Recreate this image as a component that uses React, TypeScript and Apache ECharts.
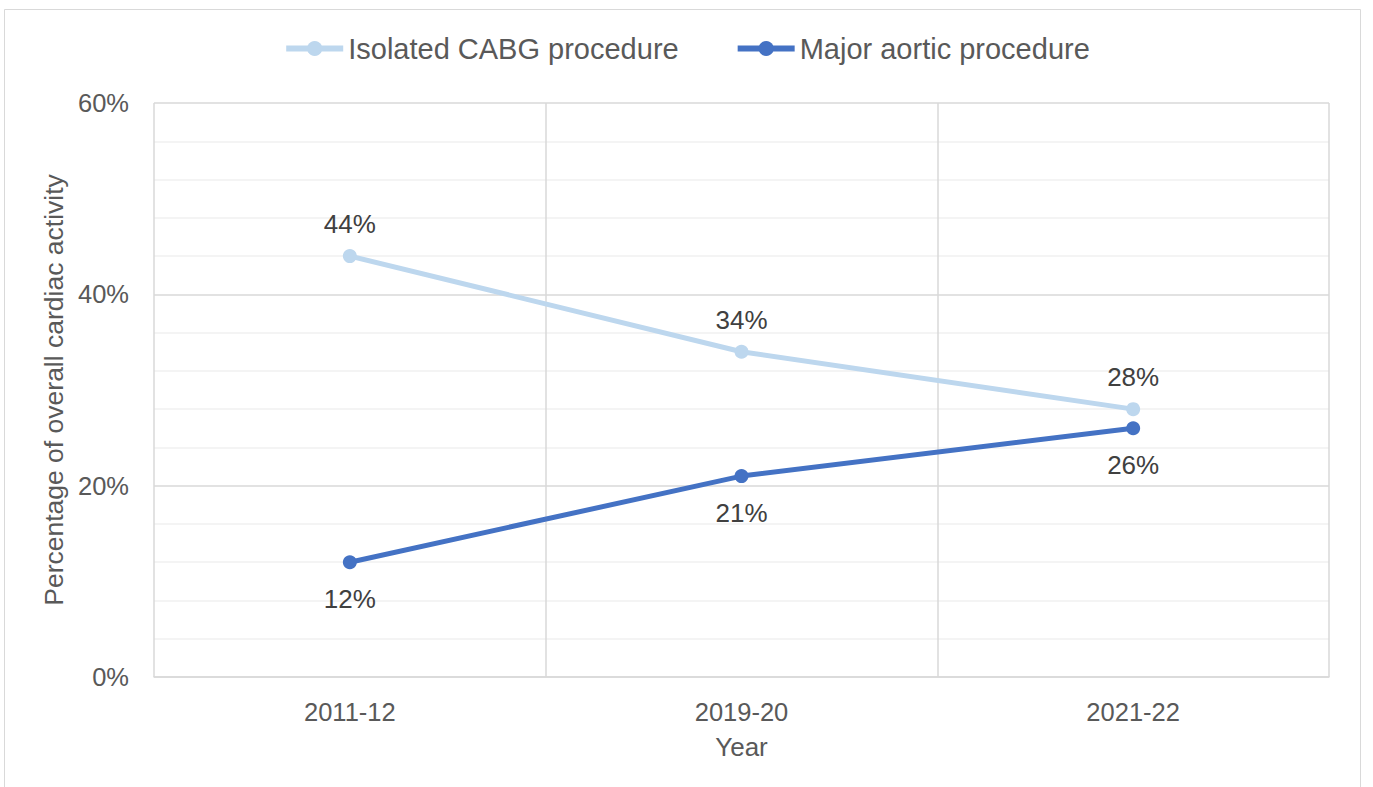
import React, { useEffect, useRef } from "react";
import * as echarts from "echarts";

const categories = ["2011-12", "2019-20", "2021-22"];
const cabgValues = [44, 34, 28];
const aorticValues = [12, 21, 26];
const seriesNames = ["Isolated CABG procedure", "Major aortic procedure"];
const yAxisTitle = "Percentage of overall cardiac activity";
const xAxisTitle = "Year";

const FONT = "'Liberation Sans', Arial, sans-serif";

export default function App() {
  const ref = useRef<HTMLDivElement>(null);
  useEffect(() => {
    document.body.style.margin = "0";
    if (!ref.current) return;
    const chart = echarts.init(ref.current, null, { renderer: "svg" });
    chart.setOption({
      animation: false,
      backgroundColor: "#ffffff",
      textStyle: { fontFamily: FONT },
      graphic: [
        {
          type: "rect",
          shape: { x: 4.5, y: 9.5, width: 1356, height: 800 },
          style: { fill: "none", stroke: "#d9d9d9", lineWidth: 1 },
          silent: true,
          z: -10,
        },
      ],
      legend: {
        top: 29,
        left: "center",
        itemWidth: 57,
        itemHeight: 19,
        itemGap: 56,
        lineStyle: { width: 6 },
        textStyle: { fontSize: 29, color: "#595959", fontFamily: FONT },
        data: seriesNames,
      },
      grid: { left: 154, right: 44, top: 103, bottom: 110, containLabel: false },
      xAxis: {
        type: "category",
        data: categories,
        boundaryGap: true,
        axisLine: { show: true, lineStyle: { color: "#d9d9d9", width: 1.5 } },
        axisTick: { show: false },
        splitLine: { show: true, lineStyle: { color: "#d9d9d9", width: 1.5 } },
        axisLabel: { color: "#595959", fontSize: 25.5, margin: 22, fontFamily: FONT },
        name: xAxisTitle,
        nameLocation: "middle",
        nameGap: 57,
        nameTextStyle: { color: "#595959", fontSize: 26, fontFamily: FONT },
      },
      yAxis: {
        type: "value",
        min: 0,
        max: 60,
        interval: 20,
        axisLine: { show: false },
        axisTick: { show: false },
        splitLine: { show: true, lineStyle: { color: "#d9d9d9", width: 1.5 } },
        minorTick: { show: false, splitNumber: 5 },
        minorSplitLine: { show: true, lineStyle: { color: "#f0f0f0", width: 1.5 } },
        axisLabel: {
          color: "#595959",
          fontSize: 25.5,
          margin: 25,
          formatter: "{value}%",
          fontFamily: FONT,
        },
        name: yAxisTitle,
        nameLocation: "middle",
        nameGap: 86,
        nameRotate: 90,
        nameTextStyle: { color: "#595959", fontSize: 26.5, fontFamily: FONT },
      },
      series: [
        {
          name: seriesNames[0],
          type: "line",
          data: cabgValues,
          symbol: "circle",
          symbolSize: 14,
          lineStyle: { color: "#bdd7ee", width: 5 },
          itemStyle: { color: "#bdd7ee" },
          label: {
            show: true,
            position: "top",
            distance: 12,
            formatter: "{c}%",
            color: "#404040",
            fontSize: 26,
            fontFamily: FONT,
          },
          z: 2,
        },
        {
          name: seriesNames[1],
          type: "line",
          data: aorticValues,
          symbol: "circle",
          symbolSize: 14,
          lineStyle: { color: "#4472c4", width: 5 },
          itemStyle: { color: "#4472c4" },
          label: {
            show: true,
            position: "bottom",
            distance: 17,
            formatter: "{c}%",
            color: "#404040",
            fontSize: 26,
            fontFamily: FONT,
          },
          z: 3,
        },
      ],
    });
    return () => chart.dispose();
  }, []);
  return <div ref={ref} style={{ width: 1373, height: 787 }} />;
}
